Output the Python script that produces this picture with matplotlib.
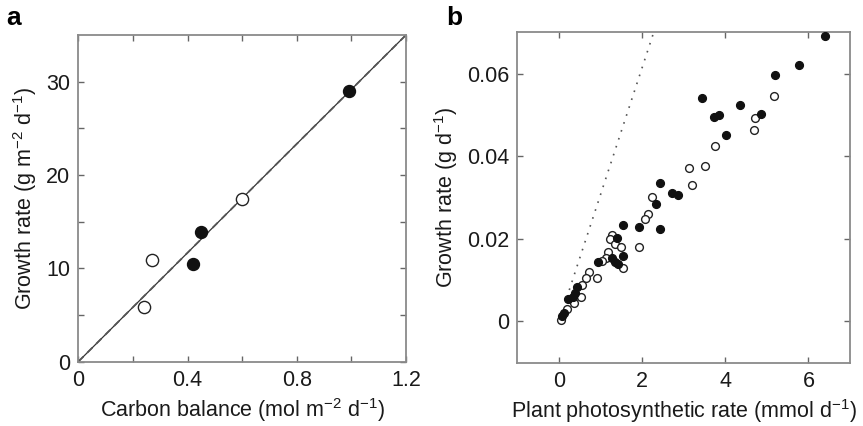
import numpy as np
import matplotlib
matplotlib.use('Agg')
import matplotlib.pyplot as plt

plt.rcParams['font.family'] = ['Liberation Sans', 'DejaVu Sans']
plt.rcParams['mathtext.fontset'] = 'custom'
plt.rcParams['mathtext.rm'] = 'Liberation Sans'
plt.rcParams['mathtext.it'] = 'Liberation Sans:italic'
plt.rcParams['mathtext.default'] = 'regular'

# --- panel a: carbon balance vs growth rate ---
a_open_x = [0.24, 0.27, 0.60]
a_open_y = [5.9, 10.9, 17.4]
a_fill_x = [0.42, 0.45, 0.99]
a_fill_y = [10.5, 13.9, 29.0]
a_fit_x = [0.0, 1.2]
a_fit_y = [0.0, 35.0]

# --- panel b: photosynthetic rate vs growth rate ---
b_fill_x = [6.39, 5.78, 5.19, 3.43, 4.36, 4.86, 3.74, 3.86, 4.02, 2.42, 2.72, 2.86,
            2.33, 1.55, 1.93, 2.42, 1.39, 1.55, 0.93, 1.27, 1.35, 1.41, 0.43, 0.39,
            0.22, 0.13, 0.08, 0.35]
b_fill_y = [0.069, 0.062, 0.0597, 0.0542, 0.0525, 0.0502, 0.0494, 0.0500, 0.0452,
            0.0335, 0.0312, 0.0305, 0.0285, 0.0233, 0.0228, 0.0223, 0.0202, 0.0159,
            0.0143, 0.0153, 0.0145, 0.0139, 0.0083, 0.0069, 0.0054, 0.0020, 0.0014,
            0.0060]
b_open_x = [5.17, 4.72, 4.68, 3.76, 3.51, 3.14, 3.21, 2.23, 2.15, 2.06, 1.27, 1.22,
            1.36, 1.49, 1.92, 1.19, 1.53, 1.13, 1.03, 0.92, 0.72, 0.65, 0.55, 0.54,
            0.37, 0.20, 0.05]
b_open_y = [0.0546, 0.0493, 0.0464, 0.0425, 0.0377, 0.0372, 0.0330, 0.0302, 0.0260,
            0.0249, 0.0210, 0.0199, 0.0187, 0.0181, 0.0181, 0.0167, 0.0129, 0.0153,
            0.0147, 0.0104, 0.0119, 0.0104, 0.0089, 0.0060, 0.0044, 0.0030, 0.0004]
b_line_x = [0.25, 2.28]
b_line_y = [0.0076, 0.0700]

spine_col = '#8a8a8a'
txt_col = '#1a1a1a'

fig = plt.figure(figsize=(8.63, 4.26), dpi=100)
ax1 = fig.add_axes([0.0907, 0.151, 0.3798, 0.767])
ax2 = fig.add_axes([0.5994, 0.1486, 0.3856, 0.7756])

for ax in (ax1, ax2):
    for s in ax.spines.values():
        s.set_color(spine_col)
        s.set_linewidth(1.3)
    ax.tick_params(direction='in', length=4, width=1.0, color='#666666',
                   top=True, right=True, labelsize=15.5, labelcolor=txt_col, pad=6)

# ============ Panel a ============
ax1.plot(a_fit_x, a_fit_y, color='#333333', linewidth=0.9, zorder=2)
ax1.plot(a_fit_x, a_fit_y, color='#555555', linewidth=1.3, linestyle=(0, (4, 3)), zorder=2)
ax1.plot(a_open_x, a_open_y, 'o', markersize=8.8, markerfacecolor='white',
         markeredgecolor='#222222', markeredgewidth=1.0, zorder=3)
ax1.plot(a_fill_x, a_fill_y, 'o', markersize=8.6, color='#111111', zorder=3)
ax1.set_xlim(0, 1.2)
ax1.set_ylim(0, 35)
ax1.set_xticks(np.arange(0, 1.21, 0.2))
ax1.set_xticklabels(['0', '', '0.4', '', '0.8', '', '1.2'])
ax1.set_yticks(np.arange(0, 35, 5))
ax1.set_yticklabels(['0', '', '10', '', '20', '', '30'])
ax1.set_xlabel('Carbon balance (mol m$^{-2}$ d$^{-1}$)', fontsize=15.5, color=txt_col, labelpad=4)
ax1.set_ylabel('Growth rate (g m$^{-2}$ d$^{-1}$)', fontsize=15.5, color=txt_col, labelpad=5)

# ============ Panel b ============
ax2.plot(b_line_x, b_line_y, color='#555555', linewidth=1.2, linestyle=(0, (1, 4)), zorder=2)
ax2.plot(b_open_x, b_open_y, 'o', markersize=5.6, markerfacecolor='white',
         markeredgecolor='#222222', markeredgewidth=1.0, zorder=3)
ax2.plot(b_fill_x, b_fill_y, 'o', markersize=5.6, color='#111111', zorder=4)
ax2.set_xlim(-1, 7)
ax2.set_ylim(-0.01, 0.07)
ax2.set_xticks([0, 2, 4, 6])
ax2.set_xticklabels(['0', '2', '4', '6'])
ax2.set_yticks([0, 0.02, 0.04, 0.06])
ax2.set_yticklabels(['0', '0.02', '0.04', '0.06'])
ax2.set_xlabel('Plant photosynthetic rate (mmol d$^{-1}$)', fontsize=15.5, color=txt_col, labelpad=4)
ax2.set_ylabel('Growth rate (g d$^{-1}$)', fontsize=15.5, color=txt_col, labelpad=5)

fig.text(0.007, 0.985, 'a', fontsize=19, fontweight='bold', va='top', ha='left')
fig.text(0.517, 0.985, 'b', fontsize=19, fontweight='bold', va='top', ha='left')

fig.savefig('out.png', dpi=100)
